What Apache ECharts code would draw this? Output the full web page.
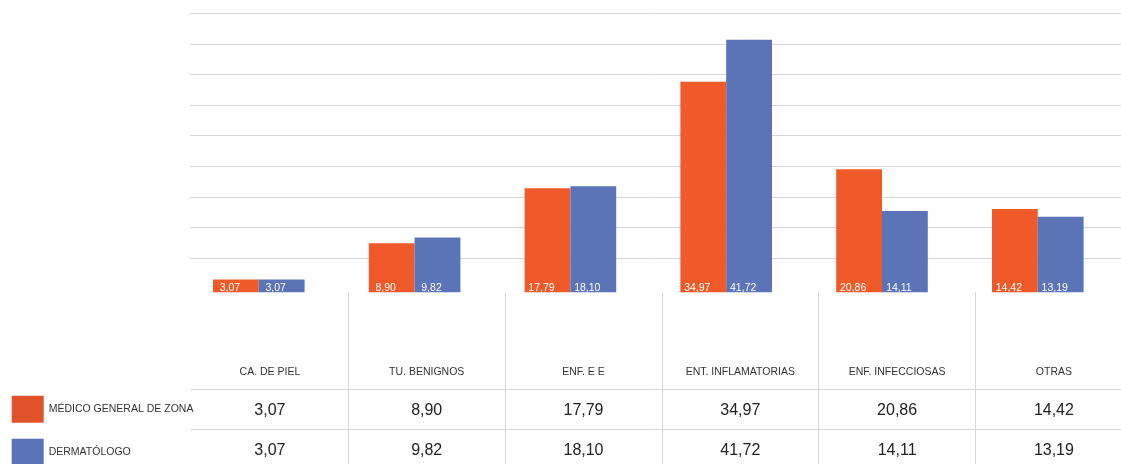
<!DOCTYPE html>
<html><head><meta charset="utf-8">
<script src="https://cdn.jsdelivr.net/npm/echarts@6/dist/echarts.min.js"></script>
<style>html,body{margin:0;padding:0;background:#fff}#c{width:1121px;height:464px}</style>
</head><body><div id="c"></div>
<script>
const categories = ['CA. DE PIEL', 'TU. BENIGNOS', 'ENF. E E', 'ENT. INFLAMATORIAS', 'ENF. INFECCIOSAS', 'OTRAS'];
const seriesNames = ['MÉDICO GENERAL DE ZONA', 'DERMATÓLOGO'];
const medicoValues = [3.07, 8.90, 17.79, 34.97, 20.86, 14.42];
const dermaValues = [3.07, 9.82, 18.10, 41.72, 14.11, 13.19];

const FONT = '"Liberation Sans", Arial, Helvetica, sans-serif';
const fmt = v => v.toFixed(2).replace('.', ',');
const barColors = ['#F05A28', '#5B74B8'];
const legendColors = ['#E0532A', '#5B72B8'];
const lineColor = '#d6d6d6';

const chart = echarts.init(document.getElementById('c'), null, { renderer: 'canvas' });

function barSeries(name, values, color) {
  return {
    type: 'bar', name: name, data: values,
    xAxisIndex: 0, yAxisIndex: 0,
    barWidth: 45.8, barGap: '0%',
    itemStyle: { color: color },
    emphasis: { disabled: true },
    label: {
      show: true, position: 'insideBottom', distance: 0, offset: [-6, 1.5],
      color: '#fff', fontSize: 10.5, fontFamily: FONT,
      formatter: p => fmt(p.value)
    }
  };
}

const option = {
  animation: false,
  textStyle: { fontFamily: FONT },
  legend: {
    orient: 'vertical', left: 11.7, top: 395.7, padding: 0,
    width: 220, height: 100,
    itemWidth: 32, itemHeight: 27, itemGap: 16, icon: 'rect',
    selectedMode: false,
    textStyle: { fontSize: 10.5, color: '#333', fontFamily: FONT },
    data: seriesNames.map((n, i) => ({ name: n, itemStyle: { color: legendColors[i] } }))
  },
  grid: [
    { left: 180.9, right: 5.3, top: 13.3, bottom: 171.7, outerBoundsMode: 'none' },
    { left: 190, right: 0, top: 13.3, bottom: 206, outerBoundsMode: 'none' },
    { left: 191.5, right: -11.3, top: 292.3, bottom: 0, outerBoundsMode: 'none' }
  ],
  xAxis: [
    { gridIndex: 0, type: 'category', data: categories, show: false },
    { gridIndex: 1, type: 'value', min: 0, max: 1, show: false },
    {
      gridIndex: 2, type: 'category', data: categories, position: 'top',
      axisLine: { show: true, lineStyle: { color: lineColor, width: 1 } },
      axisTick: { show: false },
      splitLine: { show: true, interval: (i) => i > 0, lineStyle: { color: lineColor, width: 1 } },
      axisLabel: {
        show: true, inside: true, margin: 62, interval: 0,
        formatter: (v, i) => '{h|' + v + '}\n{v|' + fmt(medicoValues[i]) + '}\n{v|' + fmt(dermaValues[i]) + '}',
        rich: {
          h: { fontSize: 10.5, color: '#333', lineHeight: 36, fontFamily: FONT, align: 'center' },
          v: { fontSize: 16, color: '#222', lineHeight: 40, fontFamily: FONT, align: 'center' }
        }
      }
    }
  ],
  yAxis: [
    { gridIndex: 0, type: 'value', min: 1, max: 46, show: false, splitLine: { show: false } },
    {
      gridIndex: 1, type: 'value', min: 5, max: 45, interval: 5,
      axisLine: { show: false }, axisTick: { show: false }, axisLabel: { show: false },
      splitLine: { show: true, lineStyle: { color: lineColor, width: 1 } }
    },
    { gridIndex: 2, type: 'value', min: 0, max: 1, show: false }
  ],
  graphic: [
    { type: 'line', shape: { x1: 190.5, y1: 389.5, x2: 1121, y2: 389.5 }, style: { stroke: lineColor, lineWidth: 1 } },
    { type: 'line', shape: { x1: 190.5, y1: 429.5, x2: 1121, y2: 429.5 }, style: { stroke: lineColor, lineWidth: 1 } }
  ],
  series: [
    barSeries(seriesNames[0], medicoValues, barColors[0]),
    barSeries(seriesNames[1], dermaValues, barColors[1])
  ]
};
chart.setOption(option);
</script>
</body></html>
